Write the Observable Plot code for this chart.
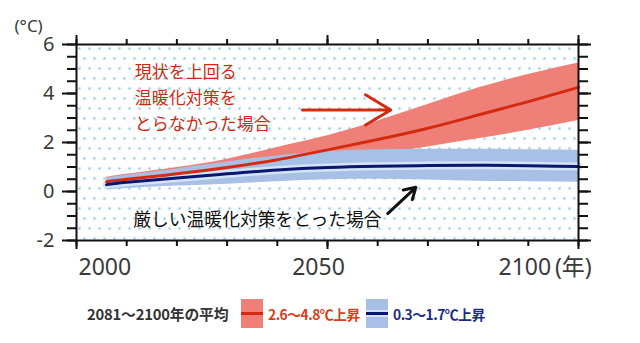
<!DOCTYPE html>
<html>
<head>
<meta charset="utf-8">
<script src="https://cdn.jsdelivr.net/npm/d3@7"></script>
<script src="https://cdn.jsdelivr.net/npm/@observablehq/plot@0.6"></script>
<style>
  body { margin: 0; background: #fff; font-family: "Noto Sans", "Noto Sans CJK JP", sans-serif; }
  #chart { position: relative; width: 640px; height: 343px; overflow: hidden; }
  #legend { position: absolute; left: 0; top: 299px; width: 640px; height: 30px; font-family: "Noto Sans CJK JP", sans-serif; }
  #legend .title { position: absolute; left: 87px; top: 5px; font-size: 14.8px; font-weight: 700; color: #333; white-space: nowrap; line-height: 20px; letter-spacing: -0.2px; }
  #legend .sw { position: absolute; top: 0; width: 22px; height: 29px; }
  #legend .sw .ln { position: absolute; left: 0; width: 22px; top: 13px; height: 3px; }
  #legend .lab { position: absolute; top: 5px; font-size: 13.8px; font-weight: 700; white-space: nowrap; line-height: 20px; letter-spacing: -0.5px; }
</style>
</head>
<body>
<div id="chart"></div>
<script>
// Projected change in global mean surface temperature (°C), 2006–2100
const years      = [2006, 2010, 2020, 2030, 2040, 2050, 2060, 2070, 2080, 2090, 2100];
// high-emission pathway (no additional mitigation)
const highMean   = [0.40, 0.50, 0.72, 0.98, 1.30, 1.70, 2.12, 2.58, 3.12, 3.67, 4.25];
const highUpper  = [0.58, 0.70, 0.98, 1.32, 1.80, 2.28, 2.88, 3.55, 4.22, 4.78, 5.25];
const highLower  = [0.22, 0.28, 0.45, 0.65, 0.90, 1.20, 1.50, 1.82, 2.15, 2.50, 2.90];
// strict mitigation pathway
const lowMean    = [0.28, 0.38, 0.55, 0.72, 0.88, 0.98, 1.03, 1.06, 1.07, 1.05, 1.02];
const lowUpper   = [0.55, 0.66, 0.92, 1.20, 1.45, 1.63, 1.70, 1.72, 1.72, 1.70, 1.68];
const lowLower   = [0.06, 0.12, 0.22, 0.30, 0.40, 0.48, 0.50, 0.47, 0.42, 0.40, 0.38];

const yTickLabels = [-2, 0, 2, 4, 6];
const xTickLabels = [2000, 2050, 2100];
const unitLabel   = "(°C)";
const yearUnit    = "\u2009(年)";

const highNote = ["現状を上回る", "温暖化対策を", "とらなかった場合"];
const lowNote  = "厳しい温暖化対策をとった場合";
// annotation anchors in data units (year, °C)
const highNoteAt  = [2011.6, 3.9];
const lowNoteAt   = [2011.3, -1.18];
const highArrow   = [2045.0, 3.33, 2062.6, 3.33];
const lowArrow    = [2062.0, -0.90, 2067.6, 0.17];

const legendTitle = "2081～2100年の平均";
const legendItems = [
  {label: "2.6～4.8℃上昇", band: "#ef8077", line: "#d42a10", text: "#dc3d18"},
  {label: "0.3～1.7℃上昇", band: "#a8c0e6", line: "#0b1670", text: "#1c2a8a"}
];

const high = years.map((year, i) => ({year, mean: highMean[i], lo: highLower[i], hi: highUpper[i]}));
const low  = years.map((year, i) => ({year, mean: lowMean[i], lo: lowLower[i], hi: lowUpper[i]}));

const curve = "natural";
const ink = "#111";
const font = "'Noto Sans', 'Noto Sans CJK JP', sans-serif";
const jp = "'Noto Sans CJK JP', sans-serif";

const svg = Plot.plot({
  width: 640,
  height: 285,
  marginLeft: 76,
  marginRight: 62,
  marginTop: 44,
  marginBottom: 45,
  x: {domain: [2000, 2100], label: null},
  y: {domain: [-2, 6], label: null},
  style: {fontFamily: font, color: "#3a3a3a", background: "transparent", overflow: "visible"},
  marks: [
    Plot.frame({fill: "url(#stipple)", stroke: null}),
    Plot.areaY(high, {x: "year", y1: "lo", y2: "hi", fill: legendItems[0].band, curve}),
    Plot.areaY(low, {x: "year", y1: "lo", y2: "hi", fill: legendItems[1].band, curve}),
    Plot.line(low, {x: "year", y: "mean", stroke: "#d3e4f6", strokeWidth: 8, curve}),
    Plot.line(high, {x: "year", y: "mean", stroke: legendItems[0].line, strokeWidth: 3, curve}),
    Plot.line(low, {x: "year", y: "mean", stroke: legendItems[1].line, strokeWidth: 3, curve}),

    // annotations
    Plot.text([highNote.join("\n")], {x: highNoteAt[0], y: highNoteAt[1], textAnchor: "start",
      lineHeight: 1.53, fontSize: 17, fill: "#cf2a10", fontFamily: jp}),
    Plot.arrow([highArrow], {x1: d => d[0], y1: d => d[1], x2: d => d[2], y2: d => d[3],
      stroke: "#d42a10", strokeWidth: 3, headLength: 20, headAngle: 62}),
    Plot.text([lowNote], {x: lowNoteAt[0], y: lowNoteAt[1], textAnchor: "start",
      fontSize: 17.8, fill: ink, fontFamily: jp}),
    Plot.arrow([lowArrow], {x1: d => d[0], y1: d => d[1], x2: d => d[2], y2: d => d[3],
      stroke: ink, strokeWidth: 3, headLength: 16, headAngle: 62}),

    Plot.frame({stroke: ink, strokeWidth: 2}),

    // left axis: labelled major ticks and minor ticks every 0.5
    Plot.axisY({ticks: yTickLabels, anchor: "left", tickSize: 14, tickPadding: 8, fontSize: 20,
      tickFormat: d => String(d), stroke: ink, strokeWidth: 2}),
    Plot.axisY({ticks: d3.range(-2, 6.01, 0.5), anchor: "left", tickSize: 9, text: null, stroke: ink, strokeWidth: 2}),
    // right axis
    Plot.axisY({ticks: yTickLabels, anchor: "right", tickSize: 12, text: null, stroke: ink, strokeWidth: 2}),
    Plot.axisY({ticks: d3.range(-2, 6.01, 0.5), anchor: "right", tickSize: 9, text: null, stroke: ink, strokeWidth: 2}),
    // top axis
    Plot.axisX({ticks: xTickLabels, anchor: "top", tickSize: 10, text: null, stroke: ink, strokeWidth: 2}),
    Plot.axisX({ticks: d3.range(2000, 2101, 10), anchor: "top", tickSize: 6, text: null, stroke: ink, strokeWidth: 2}),
    // bottom axis
    Plot.axisX({ticks: xTickLabels, anchor: "bottom", tickSize: 9, text: null, stroke: ink, strokeWidth: 2}),
    Plot.axisX({ticks: d3.range(2000, 2101, 10), anchor: "bottom", tickSize: 6, text: null, stroke: ink, strokeWidth: 2}),
    Plot.axisX({ticks: [xTickLabels[0]], anchor: "bottom", tickSize: 0, tickPadding: 18, fontSize: 23,
      textAnchor: "start", dx: 2, tickFormat: d => String(d)}),
    Plot.axisX({ticks: [xTickLabels[1]], anchor: "bottom", tickSize: 0, tickPadding: 18, fontSize: 23,
      dx: -9, tickFormat: d => String(d)}),
    Plot.axisX({ticks: [xTickLabels[2]], anchor: "bottom", tickSize: 0, tickPadding: 18, fontSize: 23,
      textAnchor: "start", dx: -80, tickFormat: d => `${d}${yearUnit}`}),

    // unit label
    Plot.text([unitLabel], {frameAnchor: "top-left", dx: -62, dy: -25, fontSize: 17, fill: "#3a3a3a", textAnchor: "start"})
  ]
});

// stippled background pattern for the plotting area
const defs = d3.select(svg).insert("defs", ":first-child");
const pat = defs.append("pattern").attr("id", "stipple")
  .attr("patternUnits", "userSpaceOnUse").attr("width", 10).attr("height", 20)
  .attr("x", 76).attr("y", 44);
pat.append("circle").attr("cx", 3).attr("cy", 4).attr("r", 1.35).attr("fill", "#8fcae8");
pat.append("circle").attr("cx", 8).attr("cy", 14).attr("r", 1.35).attr("fill", "#8fcae8");

const chart = document.getElementById("chart");
chart.appendChild(svg);

// legend below the plot
const legend = d3.select(chart).append("div").attr("id", "legend");
legend.append("div").attr("class", "title").text(legendTitle);
const swatchX = [241, 366];
const labelX = [268, 393];
legendItems.forEach((item, i) => {
  const sw = legend.append("div").attr("class", "sw")
    .style("left", swatchX[i] + "px").style("background", item.band);
  if (i === 1) {
    sw.append("div").attr("class", "ln")
      .style("top", "11px").style("height", "7px").style("background", "#d3e4f6");
  }
  sw.append("div").attr("class", "ln").style("background", item.line);
  legend.append("div").attr("class", "lab")
    .style("left", labelX[i] + "px").style("color", item.text).text(item.label);
});
</script>
</body>
</html>
